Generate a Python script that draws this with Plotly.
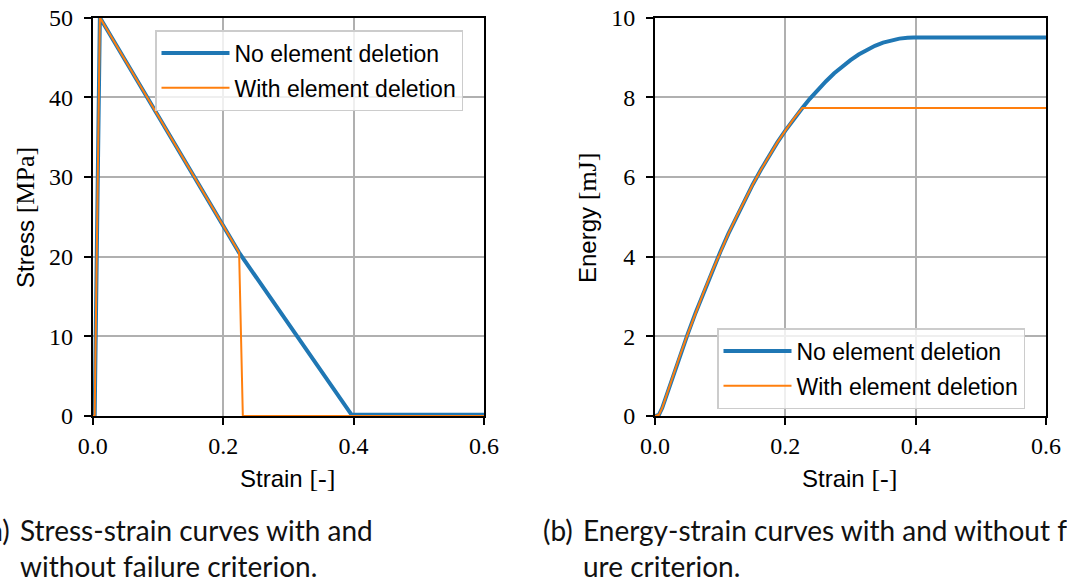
import plotly.graph_objects as go

# ---------------- data ----------------
strain_stress_nd = [0.0, 0.003, 0.011, 0.2245, 0.397, 0.6]
stress_nd = [0.0, 0.0, 50.0, 20.5, 0.15, 0.15]

strain_stress_d = [0.0, 0.003, 0.011, 0.2245, 0.2302, 0.6]
stress_d = [0.0, 0.0, 50.0, 20.5, 0.0, 0.0]

strain_energy_nd = [0.0, 0.006, 0.011, 0.025, 0.0375, 0.05, 0.0625, 0.075, 0.0875, 0.1,
                    0.1125, 0.125, 0.1375, 0.15, 0.1625, 0.175, 0.1875, 0.2, 0.2125, 0.2261,
                    0.2375, 0.25, 0.2625, 0.275, 0.2875, 0.3, 0.3125, 0.325, 0.3375, 0.35,
                    0.3625, 0.375, 0.3875, 0.397, 0.6]
energy_nd = [0.0, 0.03, 0.2, 0.89, 1.48, 2.05, 2.60, 3.12, 3.62, 4.11,
             4.57, 5.00, 5.42, 5.81, 6.18, 6.53, 6.86, 7.16, 7.45, 7.73,
             7.96, 8.19, 8.40, 8.60, 8.77, 8.93, 9.07, 9.19, 9.29, 9.37,
             9.43, 9.47, 9.49, 9.50, 9.50]

strain_energy_d = [0.0, 0.006, 0.011, 0.025, 0.0375, 0.05, 0.0625, 0.075, 0.0875, 0.1,
                   0.1125, 0.125, 0.1375, 0.15, 0.1625, 0.175, 0.1875, 0.2, 0.2125, 0.2261, 0.6]
energy_d = [0.0, 0.03, 0.2, 0.89, 1.48, 2.05, 2.60, 3.12, 3.62, 4.11,
            4.57, 5.00, 5.42, 5.81, 6.18, 6.53, 6.86, 7.16, 7.45, 7.73, 7.73]

series_names = ["No element deletion", "With element deletion"]
x_ticks = [0.0, 0.2, 0.4, 0.6]
x_tick_text = ["0.0", "0.2", "0.4", "0.6"]
stress_ticks = [0, 10, 20, 30, 40, 50]
energy_ticks = [0, 2, 4, 6, 8, 10]

caption_a = "Stress-strain curves with and<br>without failure criterion."
caption_b = "Energy-strain curves with and without fail-<br>ure criterion."

# ---------------- styling ----------------
W, H = 1067, 581
BLUE = "#1f77b4"
ORANGE = "#ff7f0e"
SERIF = "Liberation Serif"
SANS = "Liberation Sans"
CAPTION = "Lato"

def px(x):
    return x / W

def py(y):
    return 1 - y / H

fig = go.Figure()

fig.add_trace(go.Scatter(x=strain_stress_nd, y=stress_nd, mode="lines", name=series_names[0],
                         line=dict(color=BLUE, width=4), xaxis="x", yaxis="y",
                         legend="legend", legendgroup="a1"))
fig.add_trace(go.Scatter(x=strain_stress_d, y=stress_d, mode="lines", name=series_names[1],
                         line=dict(color=ORANGE, width=2), xaxis="x", yaxis="y",
                         legend="legend", legendgroup="a2"))
fig.add_trace(go.Scatter(x=strain_energy_nd, y=energy_nd, mode="lines", name=series_names[0],
                         line=dict(color=BLUE, width=4), xaxis="x2", yaxis="y2",
                         legend="legend2", legendgroup="b1"))
fig.add_trace(go.Scatter(x=strain_energy_d, y=energy_d, mode="lines", name=series_names[1],
                         line=dict(color=ORANGE, width=2), xaxis="x2", yaxis="y2",
                         legend="legend2", legendgroup="b2"))

axis_common = dict(
    showline=True, linecolor="black", linewidth=2, mirror=True,
    showgrid=True, gridcolor="#b0b0b0", gridwidth=1.5,
    ticks="outside", ticklen=7, tickwidth=1.5, tickcolor="black",
    tickfont=dict(family=SERIF, size=24, color="black"),
    zeroline=False, fixedrange=True, automargin=False,
)

xdom1 = [px(92.7), px(484)]
xdom2 = [px(655), px(1046)]
ydom = [py(416), py(17.5)]

legend_common = dict(xanchor="left", yanchor="top",
                     font=dict(family=SANS, size=23, color="black"),
                     bgcolor="rgba(255,255,255,0.8)", bordercolor="#cccccc", borderwidth=1.5,
                     traceorder="grouped", tracegroupgap=2, itemwidth=68)

fig.update_layout(
    template="none",
    width=W, height=H,
    margin=dict(l=0, r=0, t=0, b=0, autoexpand=False),
    paper_bgcolor="white", plot_bgcolor="white",
    xaxis=dict(domain=xdom1, range=[0, 0.6], tickvals=x_ticks, ticktext=x_tick_text,
               anchor="y", ticklabelstandoff=0, **axis_common),
    yaxis=dict(domain=ydom, range=[0, 50], tickvals=stress_ticks, anchor="x",
               ticklabelstandoff=6, **axis_common),
    xaxis2=dict(domain=xdom2, range=[0, 0.6], tickvals=x_ticks, ticktext=x_tick_text,
                anchor="y2", ticklabelstandoff=0, **axis_common),
    yaxis2=dict(domain=ydom, range=[0, 10], tickvals=energy_ticks, anchor="x2",
                ticklabelstandoff=6, **axis_common),
    legend=dict(x=px(155), y=py(30), **legend_common),
    legend2=dict(x=px(717), y=py(328), **legend_common),
    showlegend=True,
)

def title_html(word, unit):
    return (f"<span style='font-family:{SANS}'>{word}</span> "
            f"<span style='font-family:{SERIF};font-size:26px'>{unit}</span>")

annots = []
annots.append(dict(x=px(287), y=py(478), text=title_html("Strain", "[-]")))
annots.append(dict(x=px(849.5), y=py(478), text=title_html("Strain", "[-]")))
annots.append(dict(x=px(25), y=py(218), text=title_html("Stress", "[MPa]"), textangle=-90))
annots.append(dict(x=px(587), y=py(218), text=title_html("Energy", "[mJ]"), textangle=-90))
for a in annots:
    a.update(xref="paper", yref="paper", showarrow=False, xanchor="center", yanchor="middle",
             font=dict(family=SANS, size=24, color="black"))

cap_font = dict(family=CAPTION, size=28, color="#111111")
captions = [
    dict(x=px(12), y=py(511), text="(a)", xanchor="right"),
    dict(x=px(17.5), y=py(511), text=caption_a, xanchor="left"),
    dict(x=px(541), y=py(511), text="(b)", xanchor="left"),
    dict(x=px(581), y=py(511), text=caption_b, xanchor="left"),
]
for c in captions:
    c.update(xref="paper", yref="paper", showarrow=False, yanchor="top", align="left",
             font=cap_font)

fig.update_layout(annotations=annots + captions)

fig.write_html("out.html")
